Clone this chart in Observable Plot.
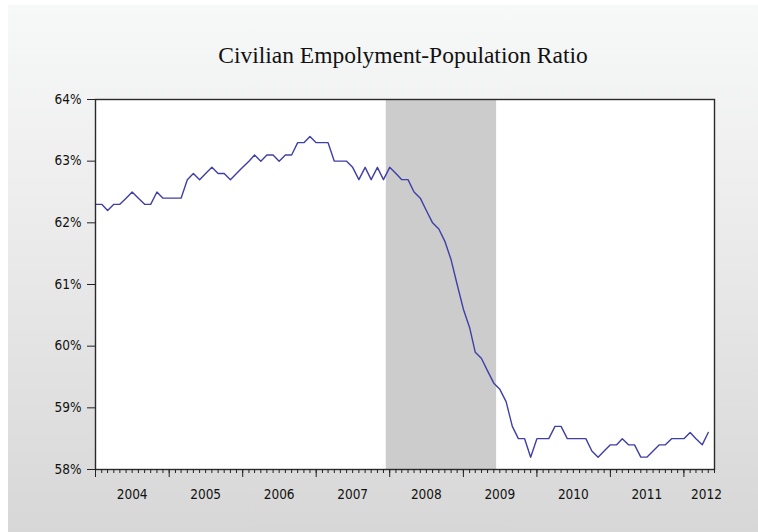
<!DOCTYPE html>
<html>
<head>
<meta charset="utf-8">
<script src="https://cdn.jsdelivr.net/npm/d3@7"></script>
<script src="https://cdn.jsdelivr.net/npm/@observablehq/plot@0.6"></script>
<style>
  html, body { margin: 0; padding: 0; }
  #wrap {
    width: 758px; height: 532px; overflow: hidden; position: relative;
    background:
      linear-gradient(to right, #ffffff 0px, #ffffff 8px, rgba(255,255,255,0) 8px),
      linear-gradient(to bottom, #ffffff 0px, #ffffff 5px, #f7f8f8 5px, #eeeeee 35%, #d7d7d7 100%);
  }
  #title {
    height: 80px; box-sizing: border-box; padding-top: 44px; padding-left: 48px;
    text-align: center; font-family: "Liberation Serif", "DejaVu Serif", serif;
    font-size: 23.5px; line-height: 23.5px; color: #111;
  }
  #chart svg { display: block; }
</style>
</head>
<body>
<div id="wrap">
  <div id="title">Civilian Empolyment-Population Ratio</div>
  <div id="chart"></div>
</div>
<script>
// Monthly employment-population ratio (%), Jan 2004 – May 2012
const startMonth = "2004-01";
const ratio = [
  62.3, 62.3, 62.2, 62.3, 62.3, 62.4, 62.5, 62.4, 62.3, 62.3, 62.5, 62.4, // 2004
  62.4, 62.4, 62.4, 62.7, 62.8, 62.7, 62.8, 62.9, 62.8, 62.8, 62.7, 62.8, // 2005
  62.9, 63.0, 63.1, 63.0, 63.1, 63.1, 63.0, 63.1, 63.1, 63.3, 63.3, 63.4, // 2006
  63.3, 63.3, 63.3, 63.0, 63.0, 63.0, 62.9, 62.7, 62.9, 62.7, 62.9, 62.7, // 2007
  62.9, 62.8, 62.7, 62.7, 62.5, 62.4, 62.2, 62.0, 61.9, 61.7, 61.4, 61.0, // 2008
  60.6, 60.3, 59.9, 59.8, 59.6, 59.4, 59.3, 59.1, 58.7, 58.5, 58.5, 58.2, // 2009
  58.5, 58.5, 58.5, 58.7, 58.7, 58.5, 58.5, 58.5, 58.5, 58.3, 58.2, 58.3, // 2010
  58.4, 58.4, 58.5, 58.4, 58.4, 58.2, 58.2, 58.3, 58.4, 58.4, 58.5, 58.5, // 2011
  58.5, 58.6, 58.5, 58.4, 58.6                                              // 2012
];
// Recession (shaded)
const recessionStart = "2007-12-15";
const recessionEnd = "2009-06-15";
// Axis
const xDomain = ["2004-01-01", "2012-06-01"];
const yTicks = [58, 59, 60, 61, 62, 63, 64];
const yearLabels = ["2004", "2005", "2006", "2007", "2008", "2009", "2010", "2011", "2012"];
const yearLabelDates = ["2004-07-01", "2005-07-01", "2006-07-01", "2007-07-01", "2008-07-01",
                        "2009-07-01", "2010-07-01", "2011-07-01", "2012-04-22"];

const parse = d3.utcParse("%Y-%m-%d");
const t0 = d3.utcParse("%Y-%m")(startMonth);
const data = ratio.map((v, i) => ({date: d3.utcMonth.offset(t0, i), value: v}));
const domain = xDomain.map(parse);
const monthTicks = d3.utcMonth.range(domain[0], d3.utcDay.offset(domain[1], 1));
const yearTicks = d3.utcYear.range(domain[0], d3.utcDay.offset(domain[1], 1));
const labelDates = yearLabelDates.map(parse);
const labelMap = new Map(labelDates.map((d, i) => [+d, yearLabels[i]]));
const shade = [{x1: parse(recessionStart), x2: parse(recessionEnd)}];

const plot = Plot.plot({
  width: 758,
  height: 452,
  marginTop: 19,
  marginBottom: 63,
  marginLeft: 95,
  marginRight: 44,
  style: {
    background: "transparent",
    fontFamily: "'DejaVu Sans Condensed', 'DejaVu Sans', sans-serif",
    fontSize: "13.5px",
    color: "#111"
  },
  x: {type: "utc", domain, axis: null, label: null},
  y: {domain: [58, 64], axis: null, label: null},
  marks: [
    Plot.frame({fill: "white", stroke: null}),
    Plot.rectX(shade, {x1: "x1", x2: "x2", y1: 58, y2: 64, fill: "#cccccc"}),
    Plot.line(data, {x: "date", y: "value", stroke: "#3f3fa6", strokeWidth: 1.4}),
    Plot.frame({stroke: "#2a2a2a", strokeWidth: 1.4}),
    Plot.axisY({ticks: yTicks, tickFormat: d => d + "%", tickSize: 8, tickPadding: 6, stroke: "#222", label: null}),
    Plot.axisX({ticks: monthTicks, tickSize: 4, tickFormat: () => "", stroke: "#222", label: null}),
    Plot.axisX({ticks: yearTicks, tickSize: 8, tickFormat: () => "", stroke: "#222", label: null}),
    Plot.axisX({ticks: labelDates, tickSize: 0, tickPadding: 20, tickFormat: d => labelMap.get(+d), label: null})
  ]
});
document.getElementById("chart").appendChild(plot);
</script>
</body>
</html>
